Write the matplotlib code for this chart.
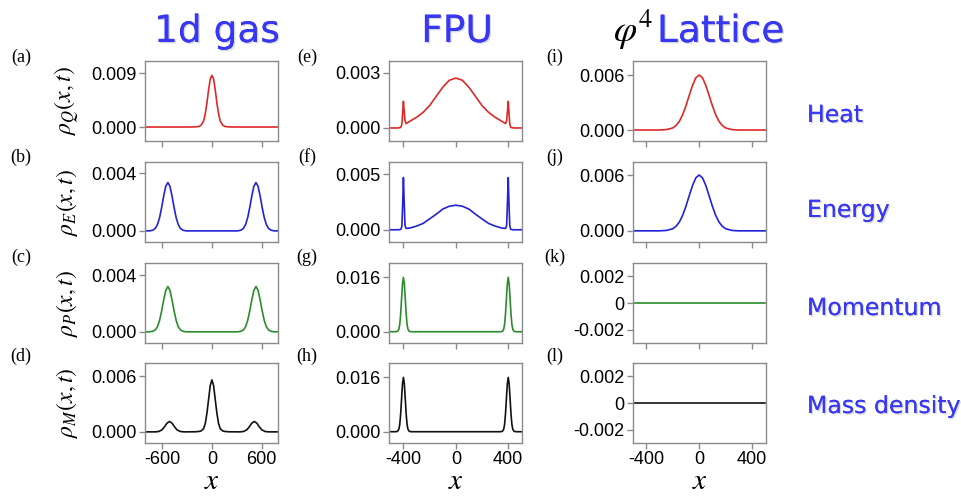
import matplotlib
matplotlib.use("Agg")
import matplotlib.pyplot as plt
import matplotlib.patheffects as pe

plt.rcParams['font.family'] = 'Liberation Sans'
plt.rcParams['mathtext.fontset'] = 'stix'

# ---------------- 1d gas ----------------
gas_x_heat = [-800, -300, -200, -160, -130, -100, -80, -60, -40, -20, 0,
              20, 40, 60, 80, 100, 130, 160, 200, 300, 800]
gas_heat = [0, 0, 0.00002, 0.00008, 0.0003, 0.0010, 0.0022, 0.0040, 0.0062, 0.0080, 0.0086,
            0.0080, 0.0062, 0.0040, 0.0022, 0.0010, 0.0003, 0.00008, 0.00002, 0, 0]

gas_x_pair = [-800, -750, -710, -680, -655, -630, -605, -580, -555, -530,
              -505, -480, -455, -430, -405, -380, -350, -310, 0,
              310, 350, 380, 405, 430, 455, 480, 505, 530,
              555, 580, 605, 630, 655, 680, 710, 750, 800]
gas_energy = [0, 0, 0.00005, 0.00018, 0.00044, 0.00091, 0.00161, 0.00242, 0.00309, 0.00335,
              0.00309, 0.00242, 0.00161, 0.00091, 0.00044, 0.00018, 0.00005, 0, 0,
              0, 0.00005, 0.00018, 0.00044, 0.00091, 0.00161, 0.00242, 0.00309, 0.00335,
              0.00309, 0.00242, 0.00161, 0.00091, 0.00044, 0.00018, 0.00005, 0, 0]
gas_momentum = [0, 0, 0.00004, 0.00014, 0.00036, 0.0008, 0.00147, 0.00226, 0.00293, 0.0032,
                0.00293, 0.00226, 0.00147, 0.0008, 0.00036, 0.00014, 0.00004, 0, 0,
                0, 0.00004, 0.00014, 0.00036, 0.0008, 0.00147, 0.00226, 0.00293, 0.0032,
                0.00293, 0.00226, 0.00147, 0.0008, 0.00036, 0.00014, 0.00004, 0, 0]

gas_x_mass = [-800, -680, -640, -600, -570, -540, -510, -480, -450, -420, -380, -340,
              -200, -160, -130, -100, -80, -60, -40, -20, 0,
              20, 40, 60, 80, 100, 130, 160, 200,
              340, 380, 420, 450, 480, 510, 540, 570, 600, 640, 680, 800]
gas_mass = [0, 0, 0.00004, 0.00022, 0.00055, 0.00094, 0.00112, 0.00094, 0.00055, 0.00022, 0.00004, 0,
            0.00001, 0.00004, 0.0001, 0.00035, 0.0009, 0.0020, 0.0035, 0.0050, 0.0056,
            0.0050, 0.0035, 0.0020, 0.0009, 0.00035, 0.0001, 0.00004, 0.00001,
            0, 0.00004, 0.00022, 0.00055, 0.00094, 0.00112, 0.00094, 0.00055, 0.00022, 0.00004, 0, 0]

# ---------------- FPU ----------------
fpu_x = [-500, -440, -420, -412, -406, -400, -394, -388, -380,
         -350, -300, -250, -200, -150, -100, -50, 0,
         50, 100, 150, 200, 250, 300, 350,
         380, 388, 394, 400, 406, 412, 420, 440, 500]
fpu_heat = [0, 0, 0.00003, 0.0002, 0.0008, 0.00145, 0.0009, 0.0004, 0.00024,
            0.00037, 0.00058, 0.00085, 0.00122, 0.00172, 0.00222, 0.0026, 0.00272,
            0.0026, 0.00222, 0.00172, 0.00122, 0.00085, 0.00058, 0.00037,
            0.00024, 0.0004, 0.0009, 0.00145, 0.0008, 0.0002, 0.00003, 0, 0]
fpu_energy = [0, 0, 0.00003, 0.0003, 0.0022, 0.0047, 0.0025, 0.0004, 0.00012,
              0.00016, 0.00033, 0.00057, 0.00098, 0.0014, 0.00186, 0.00212, 0.00221,
              0.00212, 0.00186, 0.0014, 0.00098, 0.00057, 0.00033, 0.00016,
              0.00012, 0.0004, 0.0025, 0.0047, 0.0022, 0.0003, 0.00003, 0, 0]

fpu_x_spikes = [-500, -460, -445, -435, -428, -421, -414, -407, -400,
                -393, -386, -379, -372, -365, -355, -340, 0,
                340, 355, 365, 372, 379, 386, 393, 400,
                407, 414, 421, 428, 435, 445, 460, 500]
fpu_momentum = [0, 0, 0.0001, 0.0007, 0.0021, 0.0052, 0.0097, 0.0140, 0.0159,
                0.0140, 0.0097, 0.0052, 0.0021, 0.0007, 0.0001, 0, 0,
                0, 0.0001, 0.0007, 0.0021, 0.0052, 0.0097, 0.0140, 0.0159,
                0.0140, 0.0097, 0.0052, 0.0021, 0.0007, 0.0001, 0, 0]
fpu_mass = [0, 0, 0.0001, 0.0007, 0.0021, 0.0052, 0.0097, 0.0140, 0.0159,
            0.0140, 0.0097, 0.0052, 0.0021, 0.0007, 0.0001, 0, 0,
            0, 0.0001, 0.0007, 0.0021, 0.0052, 0.0097, 0.0140, 0.0159,
            0.0140, 0.0097, 0.0052, 0.0021, 0.0007, 0.0001, 0, 0]

# ---------------- phi^4 lattice ----------------
lat_x = [-500, -300, -250, -200, -175, -150, -125, -100, -75, -50, -25, 0,
         25, 50, 75, 100, 125, 150, 175, 200, 250, 300, 500]
lat_heat = [0, 0, 0.00004, 0.00022, 0.00049, 0.00094, 0.00166, 0.00264, 0.00378, 0.00488, 0.0057, 0.0060,
            0.0057, 0.00488, 0.00378, 0.00264, 0.00166, 0.00094, 0.00049, 0.00022, 0.00004, 0, 0]
lat_energy = [0, 0, 0.00004, 0.00022, 0.00049, 0.00094, 0.00166, 0.00264, 0.00378, 0.00488, 0.0057, 0.0060,
              0.0057, 0.00488, 0.00378, 0.00264, 0.00166, 0.00094, 0.00049, 0.00022, 0.00004, 0, 0]
lat_x_flat = [-500, 500]
lat_momentum = [0.0, 0.0]
lat_mass = [0.0, 0.0]

# tick values / labels
gas_xticks = [-600, 0, 600]
fpu_xticks = [-400, 0, 400]
lat_xticks = [-400, 0, 400]
yticks = {
    'a': [0.0, 0.009], 'b': [0.0, 0.004], 'c': [0.0, 0.004], 'd': [0.0, 0.006],
    'e': [0.0, 0.003], 'f': [0.0, 0.005], 'g': [0.0, 0.016], 'h': [0.0, 0.016],
    'i': [0.0, 0.006], 'j': [0.0, 0.006], 'k': [-0.002, 0.0, 0.002], 'l': [-0.002, 0.0, 0.002],
}
flat_ylabels = ['-0.002', '0', '0.002']

column_titles = ['1d gas', 'FPU', 'Lattice']
row_names = ['Heat', 'Energy', 'Momentum', 'Mass density']
row_ylabels = [r'$\rho_Q(x,t)$', r'$\rho_E(x,t)$', r'$\rho_P(x,t)$', r'$\rho_M(x,t)$']

RED = '#e02828'
BLUE = '#2222d8'
GREEN = '#2a8c2a'
BLACK = '#111111'
TITLE_BLUE = '#3838f4'
FRAME = '#8a8a8a'

W, H = 962, 500
fig = plt.figure(figsize=(W / 100, H / 100), dpi=100)


def add_px_axes(left, top, width, height):
    return fig.add_axes([left / W, 1 - (top + height) / H, width / W, height / H])


col_left = [145, 389, 633]
row_top = [61, 162, 263, 363]
ax_w, ax_h = 133, 80
col_xlim = [(-805, 795), (-510, 505), (-500, 505)]
col_xticks = [gas_xticks, fpu_xticks, lat_xticks]

# (letter, col, row, x, y, colour, ylim)
panels = [
    ('a', 0, 0, gas_x_heat, gas_heat, RED, (-0.00233, 0.0110)),
    ('b', 0, 1, gas_x_pair, gas_energy, BLUE, (-0.00077, 0.00477)),
    ('c', 0, 2, gas_x_pair, gas_momentum, GREEN, (-0.00079, 0.00486)),
    ('d', 0, 3, gas_x_mass, gas_mass, BLACK, (-0.0012, 0.00742)),
    ('e', 1, 0, fpu_x, fpu_heat, RED, (-0.00071, 0.00365)),
    ('f', 1, 1, fpu_x, fpu_energy, BLUE, (-0.0011, 0.0061)),
    ('g', 1, 2, fpu_x_spikes, fpu_momentum, GREEN, (-0.0033, 0.0201)),
    ('h', 1, 3, fpu_x_spikes, fpu_mass, BLACK, (-0.0033, 0.0201)),
    ('i', 2, 0, lat_x, lat_heat, RED, (-0.0012, 0.00753)),
    ('j', 2, 1, lat_x, lat_energy, BLUE, (-0.0012, 0.0074)),
    ('k', 2, 2, lat_x_flat, lat_momentum, GREEN, (-0.003, 0.003)),
    ('l', 2, 3, lat_x_flat, lat_mass, BLACK, (-0.003, 0.003)),
]
letter_x = [21, 307, 555]
letter_y = [57, 157, 257, 356]

for letter, col, row, xs, ys, colour, ylim in panels:
    ax = add_px_axes(col_left[col], row_top[row], ax_w, ax_h)
    ax.plot(xs, ys, color=colour, lw=1.2)
    ax.set_xlim(*col_xlim[col])
    ax.set_ylim(*ylim)
    ax.set_xticks(col_xticks[col])
    if row == 3:
        ax.set_xticklabels([str(v) for v in col_xticks[col]])
    else:
        ax.set_xticklabels([])
    ticks = yticks[letter]
    ax.set_yticks(ticks)
    if len(ticks) == 3:
        ax.set_yticklabels(flat_ylabels)
    else:
        ax.set_yticklabels([f'{v:.3f}' for v in ticks])
    for sp in ax.spines.values():
        sp.set_color(FRAME)
        sp.set_linewidth(1.0)
    ax.tick_params(direction='out', length=4, width=1, color=FRAME,
                   labelsize=13, pad=2, top=False, right=False)
    ax.tick_params(axis='x', pad=2)
    fig.text(letter_x[col] / W, 1 - letter_y[row] / H, f'({letter})',
             family='Liberation Serif', fontsize=13, ha='center', va='center')

# y labels on the first column
for row, lab in enumerate(row_ylabels):
    yc = row_top[row] + ax_h / 2
    fig.text(67 / W, 1 - yc / H, lab, rotation=90, fontsize=17,
             ha='center', va='center')

# x labels under each column
for col in range(3):
    xc = col_left[col] + ax_w / 2
    fig.text(xc / W, 1 - 489 / H, r'$x$', fontsize=21, ha='center', va='baseline')

shadow = [pe.withSimplePatchShadow(offset=(1, -1), shadow_rgbFace='#aaaaaa', alpha=0.45),
          pe.Normal()]

# column titles
fig.text(217 / W, 1 - 42 / H, column_titles[0], family='DejaVu Sans', fontsize=27,
         color=TITLE_BLUE, ha='center', va='baseline', path_effects=shadow)
fig.text(457 / W, 1 - 42 / H, column_titles[1], family='DejaVu Sans', fontsize=27,
         color=TITLE_BLUE, ha='center', va='baseline', path_effects=shadow)
fig.text(613 / W, 1 - 42 / H, r'$\varphi^{4}$', fontsize=27, color='black',
         ha='left', va='baseline')
fig.text(657 / W, 1 - 42 / H, column_titles[2], family='DejaVu Sans', fontsize=27,
         color=TITLE_BLUE, ha='left', va='baseline', path_effects=shadow)

# quantity names on the right
name_baseline = [122, 217, 315, 413]
for name, yb in zip(row_names, name_baseline):
    fig.text(807 / W, 1 - yb / H, name, family='DejaVu Sans', fontsize=17,
             color=TITLE_BLUE, ha='left', va='baseline', path_effects=shadow)

fig.savefig('out.png', dpi=100, facecolor='white')
